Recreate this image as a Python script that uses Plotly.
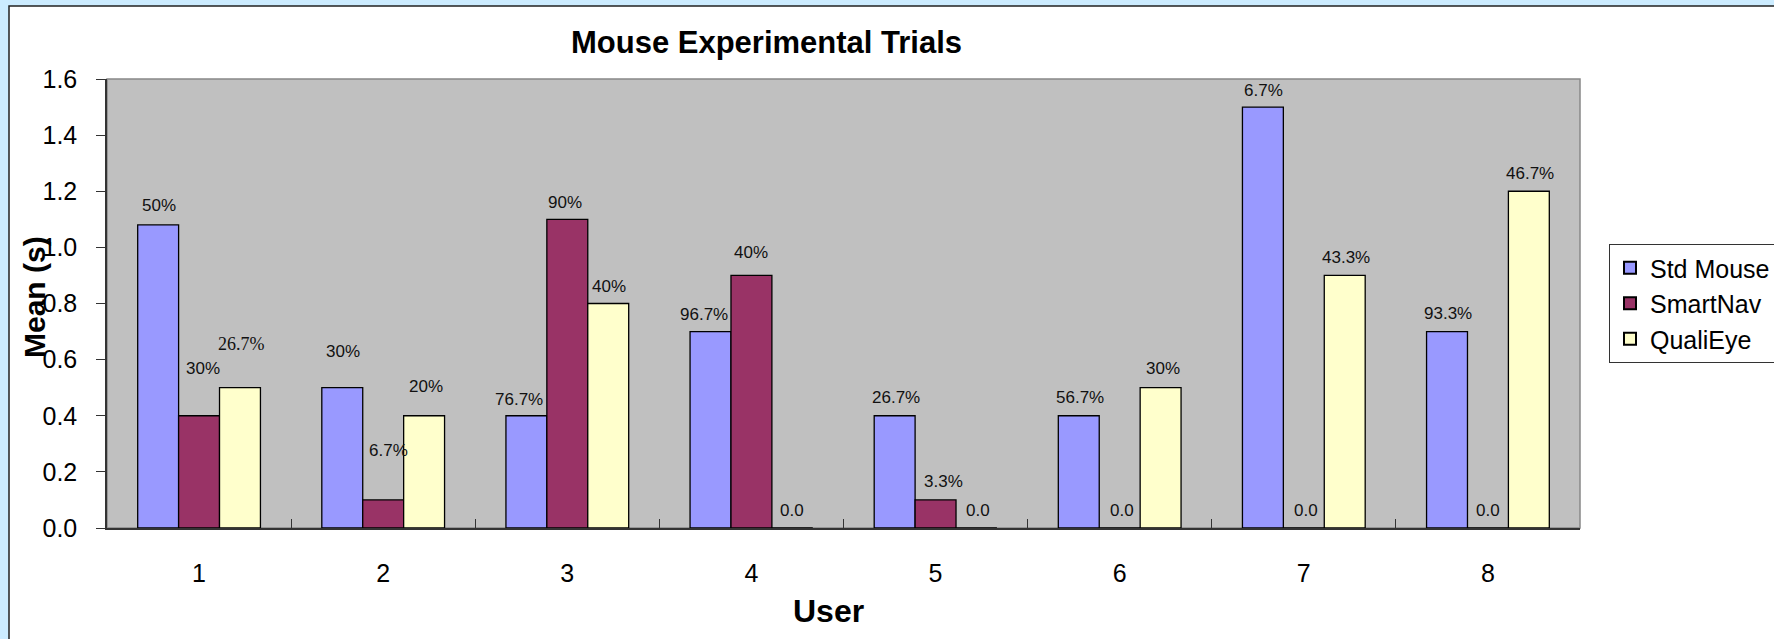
import plotly.graph_objects as go

# ---- data ----
users = ["1", "2", "3", "4", "5", "6", "7", "8"]
std_mouse = [1.08, 0.5, 0.4, 0.7, 0.4, 0.4, 1.5, 0.7]
smartnav = [0.4, 0.1, 1.1, 0.9, 0.1, 0.0, 0.0, 0.0]
qualieye = [0.5, 0.4, 0.8, 0.0, 0.0, 0.5, 0.9, 1.2]
std_labels = ["50%", "30%", "76.7%", "96.7%", "26.7%", "56.7%", "6.7%", "93.3%"]
smart_labels = ["30%", "6.7%", "90%", "40%", "3.3%", "0.0", "0.0", "0.0"]
quali_labels = ["26.7%", "20%", "40%", "0.0", "0.0", "30%", "43.3%", "46.7%"]
series_names = ["Std Mouse", "SmartNav", "QualiEye"]

# ---- style ----
colors = ["#9999FF", "#993366", "#FFFFCC"]
FONT = "Liberation Sans, Arial, sans-serif"
SERIF = "Liberation Serif, Times New Roman, serif"
W, H = 1774, 639
L, R, T, B = 107, 194, 79, 111
PW, PH = W - L - R, H - T - B
bar_px = PW / 8 / 4.5

# label placement tweaks (pixels): lift above bar top, horizontal nudge
lift = [
    [19, 36, 16, 17, 18, 18, 17, 18],
    [47, 49, 17, 23, 18, 18, 18, 18],
    [44, 29, 17, 18, 18, 19, 18, 18],
]
nudge = [
    [1, 1, -7, -7, 1, 1, 1, 1],
    [4, 5, -2, 0, 8, 2, 2, 0],
    [2, 2, 1, 0, 2, 2, 1, 1],
]

values = [std_mouse, smartnav, qualieye]
labels = [std_labels, smart_labels, quali_labels]

fig = go.Figure()
for name, vals, col in zip(series_names, values, colors):
    fig.add_trace(go.Bar(x=users, y=vals, name=name, hoverinfo="skip",
                         marker=dict(color=col, line=dict(color="#000000", width=1.3))))

annotations = []
for s in range(3):
    for i, u in enumerate(users):
        txt = labels[s][i]
        fam = SERIF if (s == 2 and i == 0) else FONT
        size = 18 if fam == SERIF else 17
        annotations.append(dict(
            x=i, y=values[s][i], xref="x", yref="y", text=txt, showarrow=False,
            xshift=(s - 1) * bar_px + nudge[s][i], yshift=lift[s][i],
            xanchor="center", yanchor="middle",
            font=dict(family=fam, size=size, color="#111111")))

# axis titles as annotations
annotations.append(dict(text="<b>User</b>", xref="paper", yref="paper",
                        x=(828 - L) / PW, y=(528 - 611) / PH, showarrow=False,
                        xanchor="center", yanchor="middle",
                        font=dict(family=FONT, size=32, color="#000000")))
annotations.append(dict(text="<b>Mean (s)</b>", xref="paper", yref="paper",
                        x=(34 - L) / PW, y=(528 - 297) / PH, showarrow=False,
                        textangle=-90, xanchor="center", yanchor="middle",
                        font=dict(family=FONT, size=30, color="#000000")))

shapes = [
    # white chart panel inside light-blue frame
    dict(type="rect", xref="paper", yref="paper",
         x0=(9 - L) / PW, x1=(W + 20 - L) / PW,
         y0=(528 - (H + 20)) / PH, y1=(528 - 6) / PH,
         fillcolor="#FFFFFF", line=dict(color="#222222", width=1.5), layer="below"),
    # grey plot area
    dict(type="rect", xref="paper", yref="paper", x0=0, x1=1, y0=0, y1=1,
         fillcolor="#C0C0C0", line=dict(color="#888888", width=1.5), layer="below"),
]

fig.update_layout(
    width=W, height=H, autosize=False,
    margin=dict(l=L, r=R, t=T, b=B, pad=0, autoexpand=False),
    paper_bgcolor="#CCECFF", plot_bgcolor="#C0C0C0",
    font=dict(family=FONT, color="#000000"),
    title=dict(text="<b>Mouse Experimental Trials</b>", x=(766.5 - L) / PW, xref="paper",
               xanchor="center", y=1 - 42.5 / H, yanchor="middle",
               font=dict(family=FONT, size=31, color="#000000")),
    barmode="group", bargap=1 / 3, bargroupgap=0,
    showlegend=True, hovermode=False,
    legend=dict(x=(1609 - L) / PW, y=(528 - 244) / PH, xanchor="left", yanchor="top",
                bgcolor="#FFFFFF", bordercolor="#333333", borderwidth=1,
                font=dict(family=FONT, size=25, color="#000000"),
                tracegroupgap=0, itemsizing="constant"),
    annotations=annotations, shapes=shapes,
)
fig.update_xaxes(type="category", range=[-0.5, 7.5], autorange=False,
                 showline=True, linecolor="#333333", linewidth=2,
                 ticks="inside", tickson="boundaries", ticklen=9, tickcolor="#333333",
                 tickfont=dict(family=FONT, size=25, color="#000000"),
                 ticklabelstandoff=22, showgrid=False, zeroline=False, mirror=False)
fig.update_yaxes(range=[0, 1.6], autorange=False, dtick=0.2, tickformat=".1f", showline=True,
                 linecolor="#333333", linewidth=1.5, ticks="outside", ticklen=9,
                 tickcolor="#333333", tickfont=dict(family=FONT, size=25, color="#000000"),
                 ticklabelstandoff=14, showgrid=False, zeroline=False)

fig.write_html("out.html", config={"displayModeBar": False},
               post_script="document.body.style.margin='0';")
